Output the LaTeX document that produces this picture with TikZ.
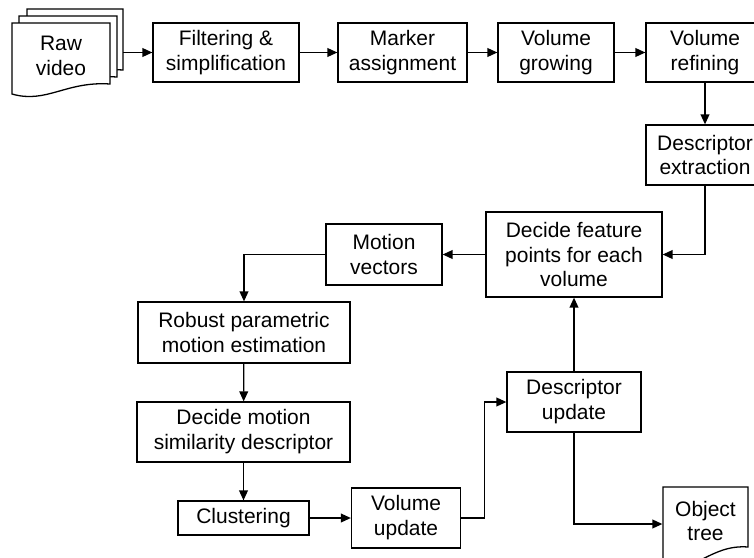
\documentclass[tikz,border=0pt]{standalone}
\usepackage{fontspec}
\setmainfont{Liberation Sans}
\usetikzlibrary{arrows.meta,positioning,calc}
\tikzset{
        block/.style = {draw, fill=white, rectangle, align=center, inner sep=0pt},
        boxsize/.style 2 args = {minimum width=#1*0.03cm, minimum height=#2*0.03cm},
        line/.style={draw, -{Triangle[length=8.5pt,width=7.5pt]}}}
% page with a wavy bottom: left, top, right, bottom at right, bottom at left
\newcommand{\docpage}[5]{%
  \draw[fill=white] (#1,#2) -- (#3,#2) -- (#3,#4)
    .. controls ({#1+0.55*(#3-#1)},{#4-3}) and ({#1+0.35*(#3-#1)},{#5+10}) .. (#1,#5) -- cycle;}

\begin{document}
\begin{tikzpicture}[x=0.03cm, y=-0.03cm, line width=1.1pt,
    every node/.style={font=\fontsize{17.9}{21.3}\selectfont}]
            \useasboundingbox (0,0) rectangle (754,557);

            % raw video stack
            \docpage{27}{9}{123}{70}{78}
            \docpage{19}{16}{117}{77}{86}
            \docpage{12}{23}{110}{84}{94}
            \node [align=center] (raw) at (61,56) {Raw\\video};
            \coordinate (rawout) at (123,52.5);

            \node [block, boxsize={146}{59}] (filt) at (226,52.5) {Filtering \&\\simplification};
            \node [block, boxsize={129}{59}] (marker) at (402.5,52.5) {Marker\\assignment};
            \node [block, boxsize={116}{59}] (grow) at (556,52.5) {Volume\\growing};
            \node [block, boxsize={118}{59}] (refine) at (705,52.5) {Volume\\refining};
            \node [block, boxsize={118}{60}] (descext) at (705,155) {Descriptor\\extraction};
            \node [block, boxsize={176}{85}] (feat) at (574,254.5) {Decide feature\\points for each\\volume};
            \node [block, boxsize={116}{61}] (motvec) at (384,254.5) {Motion\\vectors};
            \node [block, boxsize={212}{61}] (robust) at (244,332.5) {Robust parametric\\motion estimation};
            \node [block, boxsize={213}{60}] (simdesc) at (243.5,432) {Decide motion\\similarity descriptor};
            \node [block, boxsize={131}{34}] (clust) at (243.5,518) {Clustering};
            \node [block, boxsize={109}{60}] (volupd) at (406,518) {Volume\\update};
            \node [block, boxsize={134}{60}] (descupd) at (574,402) {Descriptor\\update};

            % object tree document
            \docpage{663}{487}{748}{547}{566}
            \node [align=center, boxsize={85}{60}] (objtree) at (705.5,521) {Object\\tree};

            \begin{scope}[line]
            \draw (rawout) -- (filt.west);
            \draw (filt) -- (marker);
            \draw (marker) -- (grow);
            \draw (grow) -- (refine);
            \draw (refine) -- (descext);
            \draw (descext.south) |- (feat.east);
            \draw (feat) -- (motvec);
            \draw (motvec.west) -| (robust.north);
            \draw (robust) -- (simdesc);
            \draw (simdesc) -- (clust);
            \draw (clust) -- (volupd);
            \draw (volupd.east) -- ++(23,0) |- (descupd.west);
            \draw (descupd) -- (feat);
            \draw (descupd.south) |- ([yshift=-3*0.03cm]objtree.west);
            \end{scope}
    \end{tikzpicture}
\end{document}
